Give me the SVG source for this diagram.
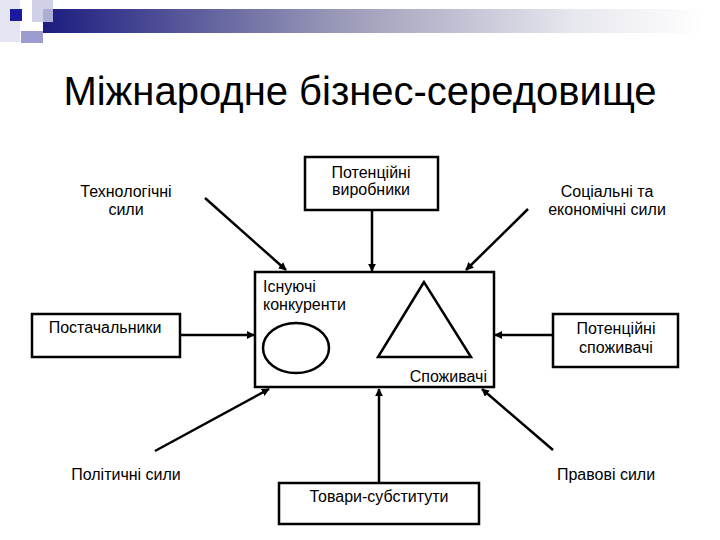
<svg xmlns="http://www.w3.org/2000/svg" width="720" height="540" viewBox="0 0 720 540">
<style>
  .box{fill:#fff;stroke:#000;stroke-width:2.5}
  .t{font-family:"Liberation Sans",Arial,sans-serif;font-size:16px;fill:#000}
  .c{text-anchor:middle}
  .e{text-anchor:end}
  .ln{stroke:#000;stroke-width:2.5;fill:none;marker-end:url(#ah)}
</style>
<defs>
  <marker id="ah" viewBox="0 0 10 10" refX="9" refY="5" markerWidth="3.2" markerHeight="3.2" orient="auto" markerUnits="strokeWidth">
    <path d="M0,0 L10,5 L0,10 z" fill="#000"/>
  </marker>
  <linearGradient id="bar" x1="0" y1="0" x2="1" y2="0">
    <stop offset="0" stop-color="#1c1c80"/>
    <stop offset="0.45" stop-color="#9a9ab8"/>
    <stop offset="0.8" stop-color="#e6e6ee"/>
    <stop offset="1" stop-color="#ffffff"/>
  </linearGradient>
</defs>
<rect width="720" height="540" fill="#fff"/>
<g id="header">
  <rect x="0" y="0" width="20" height="42" fill="#e4e4f2"/>
  <rect x="43" y="9" width="660" height="24" fill="url(#bar)"/>
  <rect x="32" y="0" width="21" height="22" fill="#c8c8e4" opacity="0.85"/>
  <rect x="10" y="9" width="12" height="12" fill="#1a1aa0"/>
  <rect x="21" y="31" width="22" height="12" fill="#9c9cd0"/>
</g>
<text class="t c" x="360" y="105" style="font-size:40px">Міжнародне бізнес-середовище</text>

<g id="connectors">
  <line class="ln" x1="372" y1="210" x2="372" y2="271"/>
  <line class="ln" x1="205" y1="198" x2="286" y2="270"/>
  <line class="ln" x1="528" y1="209" x2="466" y2="270"/>
  <line class="ln" x1="180" y1="335" x2="254" y2="335"/>
  <line class="ln" x1="553" y1="335" x2="495" y2="335"/>
  <line class="ln" x1="155" y1="451" x2="269" y2="389"/>
  <line class="ln" x1="379" y1="483" x2="379" y2="389"/>
  <line class="ln" x1="553" y1="450" x2="482" y2="389"/>
</g>

<g id="market">
  <rect class="box" x="255" y="272" width="239" height="115"/>
  <text class="t" x="263" y="292">Існуючі</text>
  <text class="t" x="263" y="310">конкуренти</text>
  <ellipse cx="296" cy="348" rx="33" ry="25" fill="none" stroke="#000" stroke-width="2.5"/>
  <polygon points="424,282 378,357 471,357" fill="none" stroke="#000" stroke-width="2.5"/>
  <text class="t e" x="487" y="382">Споживачі</text>
</g>
<g id="producers">
  <rect class="box" x="305" y="157" width="133" height="53"/>
  <text class="t c" x="371" y="178">Потенційні</text>
  <text class="t c" x="371" y="195">виробники</text>
</g>
<g id="tech">
  <text class="t c" x="126" y="197">Технологічні</text>
  <text class="t c" x="126" y="215">сили</text>
</g>
<g id="social">
  <text class="t c" x="607" y="197">Соціальні та</text>
  <text class="t c" x="607" y="215">економічні сили</text>
</g>
<g id="suppliers">
  <rect class="box" x="32" y="314" width="148" height="43"/>
  <text class="t c" x="105" y="333">Постачальники</text>
</g>
<g id="consumers">
  <rect class="box" x="553" y="314" width="125" height="53"/>
  <text class="t c" x="616" y="334">Потенційні</text>
  <text class="t c" x="616" y="353">споживачі</text>
</g>
<g id="political">
  <text class="t c" x="126" y="480">Політичні сили</text>
</g>
<g id="legal">
  <text class="t c" x="606" y="480">Правові сили</text>
</g>
<g id="substitutes">
  <rect class="box" x="279" y="483" width="200" height="41"/>
  <text class="t c" x="379" y="502">Товари-субститути</text>
</g>
</svg>
